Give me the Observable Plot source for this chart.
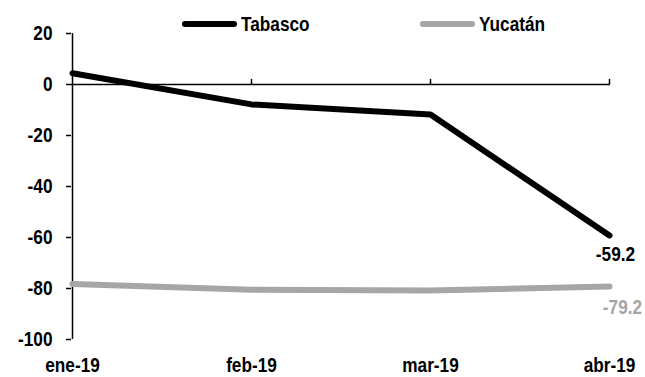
<!DOCTYPE html>
<html><head><meta charset="utf-8">
<script src="https://cdn.jsdelivr.net/npm/d3@7"></script>
<script src="https://cdn.jsdelivr.net/npm/@observablehq/plot@0.6"></script>
<style>
body{margin:0;background:#fff;}
#wrap{position:relative;width:645px;height:377px;font-family:"Liberation Sans",Arial,sans-serif;font-weight:bold;}
.leg{position:absolute;top:12px;display:flex;align-items:center;font-size:21px;color:#000;}
.sw{display:inline-block;width:55px;height:6px;border-radius:3px;margin-right:4px;}
.lt{display:inline-block;transform:scaleX(0.82);transform-origin:left center;}
</style></head><body>
<div id="wrap"></div>
<script>
const months = ["ene-19","feb-19","mar-19","abr-19"];
const tabasco = [4.4, -7.8, -11.8, -59.2];
const yucatan = [-78.2, -80.5, -80.8, -79.2];
const yTicks = [20, 0, -20, -40, -60, -80, -100];
const seriesNames = ["Tabasco", "Yucatán"];
const seriesColors = ["#000000", "#a6a6a6"];

const data = [];
months.forEach((m,i)=>{
  data.push({month:m, value:tabasco[i], series:seriesNames[0]});
  data.push({month:m, value:yucatan[i], series:seriesNames[1]});
});
const last = data.filter(d=>d.month===months[months.length-1]);

const fontFam = '"Liberation Sans",Arial,sans-serif';

const chart = Plot.plot({
  width:645, height:377,
  marginLeft:71, marginRight:35, marginTop:33, marginBottom:38,
  style:{fontFamily:fontFam, fontWeight:"bold", fontSize:"21px", color:"#000", background:"#fff"},
  x:{type:"point", domain:months, padding:0, label:null},
  y:{domain:[-100,20], label:null},
  color:{domain:seriesNames, range:seriesColors},
  marks:[
    Plot.axisY({ticks:yTicks, tickSize:5, tickPadding:14, tickFormat:d=>String(d), fontSize:21, strokeWidth:1.5, label:null}),
    Plot.axisX({tickSize:0, tickPadding:18, fontSize:21, label:null}),
    Plot.ruleX([months[0]], {y1:-100, y2:20, stroke:"#000", strokeWidth:1.5}),
    Plot.ruleY([0], {stroke:"#000", strokeWidth:1.5}),
    Plot.ruleX(months.slice(1), {y1:0, y2:2, stroke:"#000", strokeWidth:1.5}),
    Plot.line(data, {x:"month", y:"value", z:"series", stroke:"series", strokeWidth:6, strokeLinecap:"round", strokeLinejoin:"round"}),
    Plot.text(last.filter(d=>d.series===seriesNames[0]), {x:"month", y:"value", text:d=>d.value.toFixed(1), dx:6, dy:19, fill:"#000", fontSize:21}),
    Plot.text(last.filter(d=>d.series===seriesNames[1]), {x:"month", y:"value", text:d=>d.value.toFixed(1), dx:13, dy:21, fill:"#a6a6a6", fontSize:21})
  ]
});
const wrap = document.getElementById("wrap");
wrap.appendChild(chart);
// condense text horizontally (mimic a narrow bold face)
chart.querySelectorAll("text").forEach(t=>{
  const len = t.getComputedTextLength();
  if (len > 0) {
    t.setAttribute("textLength", (len*0.82).toFixed(2));
    t.setAttribute("lengthAdjust", "spacingAndGlyphs");
  }
});
const legLeft = [182, 420];
seriesNames.forEach((n,i)=>{
  const d = document.createElement("div");
  d.className="leg";
  d.style.left = legLeft[i]+"px";
  d.innerHTML = `<span class="sw" style="background:${seriesColors[i]}"></span><span class="lt">${n}</span>`;
  wrap.appendChild(d);
});
</script></body></html>
